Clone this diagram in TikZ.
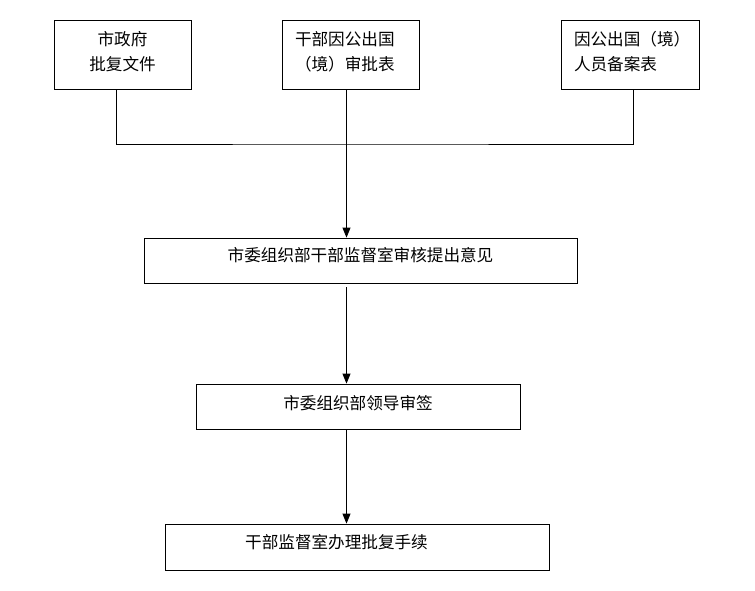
\documentclass[tikz,border=0pt]{standalone}
\usepackage{fontspec}
\newfontfamily\cjk{Noto Sans CJK SC}
\usetikzlibrary{arrows.meta}
\begin{document}
\begin{tikzpicture}[x=1pt,y=-1pt,
  box/.style={draw, line width=0.8pt, inner sep=0pt,
    font=\cjk\fontsize{16.6pt}{25pt}\selectfont},
  conn/.style={line width=0.8pt},
  arr/.style={conn,-{Triangle[length=10pt,width=8pt]}}]
\useasboundingbox (0,0) rectangle (755,590);
\node[box, minimum width=137pt, minimum height=69pt, align=center] (b1) at (122.5,54.5)
  {市政府\\批复文件\rule[-8pt]{0pt}{0pt}};
\node[box, minimum width=137pt, minimum height=69pt, align=left, text width=111pt, inner xsep=13pt] (b2) at (350.5,54.5)
  {干部因公出国\\（境）审批表\rule[-8pt]{0pt}{0pt}};
\node[box, minimum width=138pt, minimum height=69pt, align=left, text width=112pt, inner xsep=13pt] (b3) at (630,54.5)
  {因公出国（境）\\人员备案表\rule[-8pt]{0pt}{0pt}};
\node[box, minimum width=433pt, minimum height=45pt, text height=12pt, text depth=10pt] (b4) at (360.5,260.5)
  {市委组织部干部监督室审核提出意见};
\node[box, minimum width=324pt, minimum height=45pt, text height=12pt, text depth=7pt] (b5) at (358,406.5)
  {市委组织部领导审签};
\node[box, minimum width=384pt, minimum height=46pt, text height=12pt, text depth=10pt] (b6) at (357,547)
  {干部监督室办理批复手续\kern41pt};
\coordinate (j) at (346.5,144);
\draw[conn] ([xshift=-6.5pt]b1.south) |- (j) -| ([xshift=3pt]b3.south);
\draw[arr] (b2.south -| j) -- (b4.north -| j);
\draw[arr, shorten <=4pt] (b4.south -| j) -- (b5.north -| j);
\draw[arr] (b5.south -| j) -- (b6.north -| j);
\end{tikzpicture}
\end{document}
